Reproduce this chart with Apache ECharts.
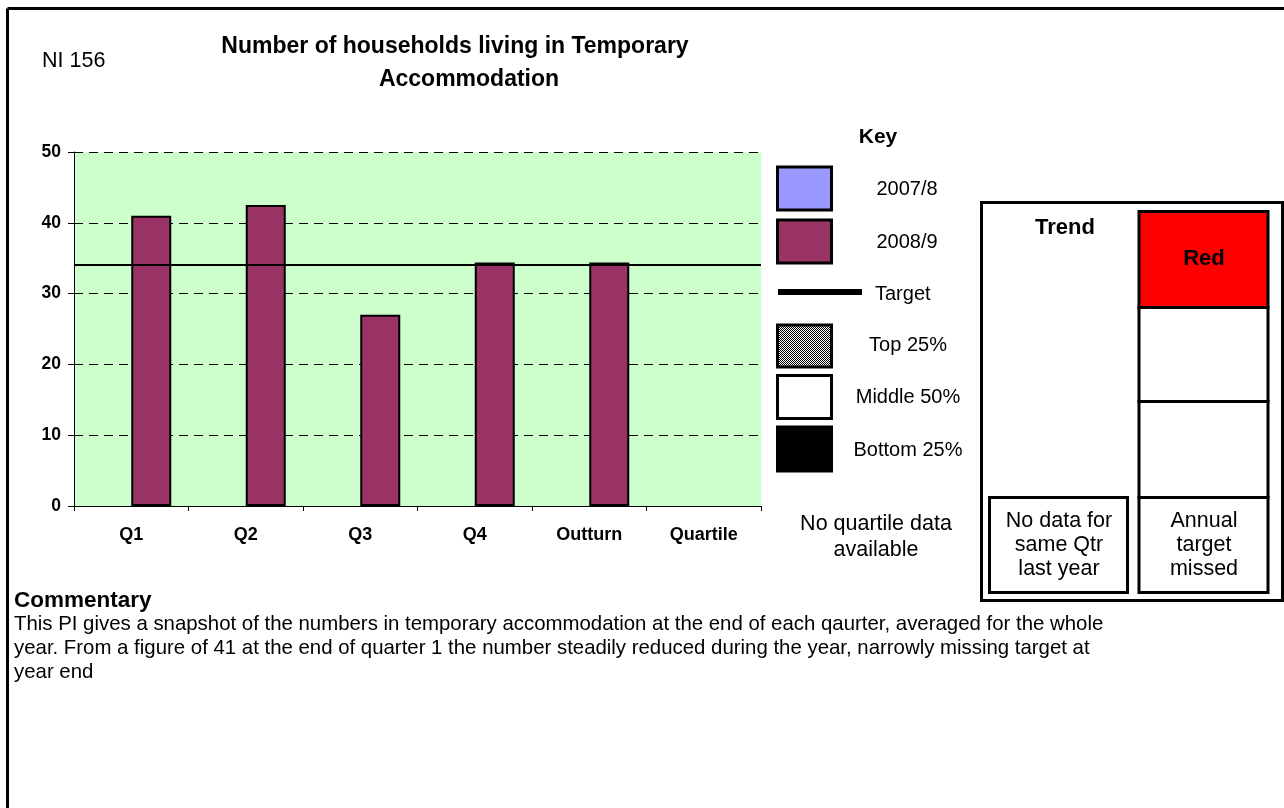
<!DOCTYPE html>
<html>
<head>
<meta charset="utf-8">
<title>NI 156 - Households in Temporary Accommodation</title>
<script src="https://cdn.jsdelivr.net/npm/echarts@6/dist/echarts.min.js"></script>
<style>
  html, body { margin: 0; padding: 0; background: #ffffff; }
  #chart { width: 1284px; height: 808px; }
</style>
</head>
<body>
<div id="chart"></div>
<script>
// Quarterly figures for NI 156
const categories = ['Q1', 'Q2', 'Q3', 'Q4', 'Outturn', 'Quartile'];
const values2007 = [null, null, null, null, null, null];
const values2008 = [41, 42.5, 27, 34.4, 34.4, null];
const targetValue = 34.1;
const yTicks = [0, 10, 20, 30, 40, 50];

const FONT = '"Liberation Sans", Arial, sans-serif';
const chart = echarts.init(document.getElementById('chart'), null, { renderer: 'canvas' });

const commentary = [
  'This PI gives a snapshot of the numbers in temporary accommodation at the end of each qaurter, averaged for the whole',
  'year. From a figure of 41 at the end of quarter 1 the number steadily reduced during the year, narrowly missing target at',
  'year end'
];

function txt(x, y, text, opts) {
  return {
    type: 'text', x: x, y: y, z: 20,
    style: Object.assign({
      text: text, fill: '#000', font: '20px ' + FONT,
      textAlign: 'left', textVerticalAlign: 'middle'
    }, opts || {})
  };
}
function box(x, y, w, h, fill, lw) {
  return {
    type: 'rect', z: 10,
    shape: { x: x, y: y, width: w, height: h },
    style: { fill: fill, stroke: '#000', lineWidth: lw || 3 }
  };
}

const graphics = [
  // page frame (top and left rules)
  { type: 'line', z: 5, shape: { x1: 7.5, y1: 8.5, x2: 1284, y2: 8.5 }, style: { stroke: '#000', lineWidth: 3 } },
  { type: 'line', z: 5, shape: { x1: 7.5, y1: 8.5, x2: 7.5, y2: 808 }, style: { stroke: '#000', lineWidth: 3 } },

  txt(42, 61, 'NI 156', { font: '21.5px ' + FONT }),
  txt(455, 47, 'Number of households living in Temporary', { font: 'bold 23px ' + FONT, textAlign: 'center' }),
  txt(469, 80, 'Accommodation', { font: 'bold 23px ' + FONT, textAlign: 'center' }),

  // key
  txt(878, 137, 'Key', { font: 'bold 21px ' + FONT, textAlign: 'center' }),
  box(777.5, 167, 54, 43, '#9999FF'),
  txt(907, 189, '2007/8', { textAlign: 'center' }),
  box(777.5, 220, 54, 43, '#993366'),
  txt(907, 242, '2008/9', { textAlign: 'center' }),
  { type: 'rect', z: 10, shape: { x: 778, y: 289, width: 84, height: 6 }, style: { fill: '#000' } },
  txt(875, 294, 'Target'),
  {
    type: 'rect', z: 10,
    shape: { x: 777.5, y: 325, width: 54, height: 42 },
    style: {
      stroke: '#000', lineWidth: 3,
      fill: {
        image: (function () {
          const c = document.createElement('canvas');
          c.width = 2; c.height = 2;
          const g = c.getContext('2d');
          g.fillStyle = '#ffffff'; g.fillRect(0, 0, 2, 2);
          g.fillStyle = '#000000'; g.fillRect(0, 0, 1, 1); g.fillRect(1, 1, 1, 1);
          return c;
        })(),
        repeat: 'repeat'
      }
    }
  },
  txt(908, 345, 'Top 25%', { textAlign: 'center' }),
  box(777.5, 375.5, 54, 43, '#ffffff'),
  txt(908, 397, 'Middle 50%', { textAlign: 'center' }),
  box(777.5, 427, 54, 44, '#000000'),
  txt(908, 450, 'Bottom 25%', { textAlign: 'center' }),

  txt(876, 524, 'No quartile data', { textAlign: 'center', font: '21.5px ' + FONT }),
  txt(876, 550, 'available', { textAlign: 'center', font: '21.5px ' + FONT }),

  // trend panel
  box(981.5, 202.5, 301, 398, '#ffffff'),
  txt(1065, 228, 'Trend', { font: 'bold 22px ' + FONT, textAlign: 'center' }),
  box(1139, 211.5, 129, 96, '#FF0000'),
  txt(1204, 259, 'Red', { font: 'bold 22px ' + FONT, textAlign: 'center' }),
  box(1139, 307.5, 129, 94, '#ffffff'),
  box(1139, 401.5, 129, 96, '#ffffff'),
  box(1139, 497.5, 129, 95, '#ffffff'),
  box(989.5, 497.5, 138, 95, '#ffffff'),
  txt(1059, 521, 'No data for', { textAlign: 'center', font: '21.5px ' + FONT }),
  txt(1059, 545, 'same Qtr', { textAlign: 'center', font: '21.5px ' + FONT }),
  txt(1059, 569, 'last year', { textAlign: 'center', font: '21.5px ' + FONT }),
  txt(1204, 521, 'Annual', { textAlign: 'center', font: '21.5px ' + FONT }),
  txt(1204, 545, 'target', { textAlign: 'center', font: '21.5px ' + FONT }),
  txt(1204, 569, 'missed', { textAlign: 'center', font: '21.5px ' + FONT }),

  // commentary
  txt(14, 601, 'Commentary', { font: 'bold 22.5px ' + FONT })
];
commentary.forEach(function (line, i) {
  graphics.push(txt(14, 624 + i * 24, line, { font: '20.4px ' + FONT }));
});

chart.setOption({
  animation: false,
  backgroundColor: '#ffffff',
  textStyle: { fontFamily: FONT },
  grid: {
    left: 74, right: 523, top: 152, bottom: 302,
    show: true, backgroundColor: '#CCFFCC', borderWidth: 0
  },
  xAxis: {
    type: 'category',
    data: categories,
    axisLine: { lineStyle: { color: '#000', width: 1 } },
    axisTick: { show: true, length: 5, lineStyle: { color: '#000' } },
    axisLabel: { color: '#000', fontWeight: 'bold', fontSize: 18, margin: 20, fontFamily: FONT }
  },
  yAxis: {
    type: 'value',
    min: yTicks[0], max: yTicks[yTicks.length - 1], interval: 10,
    axisLine: { show: true, lineStyle: { color: '#000', width: 1 } },
    axisTick: { show: true, length: 6, lineStyle: { color: '#000' } },
    axisLabel: { color: '#000', fontWeight: 'bold', fontSize: 17.5, margin: 13, fontFamily: FONT },
    splitLine: { show: true, lineStyle: { color: '#000', width: 1, type: [9, 6] } }
  },
  series: [
    {
      name: '2007/8', type: 'bar', data: values2007,
      barWidth: 40, barGap: '0%',
      itemStyle: { color: '#9999FF', borderColor: '#000', borderWidth: 2 }
    },
    {
      name: '2008/9', type: 'bar', data: values2008,
      barWidth: 40, barGap: '0%',
      itemStyle: { color: '#993366', borderColor: '#000', borderWidth: 2 },
      markLine: {
        silent: true, symbol: 'none', z: 10,
        label: { show: false },
        lineStyle: { color: '#000', width: 2, type: 'solid' },
        data: [{ yAxis: targetValue }]
      }
    }
  ],
  graphic: graphics
});
</script>
</body>
</html>
